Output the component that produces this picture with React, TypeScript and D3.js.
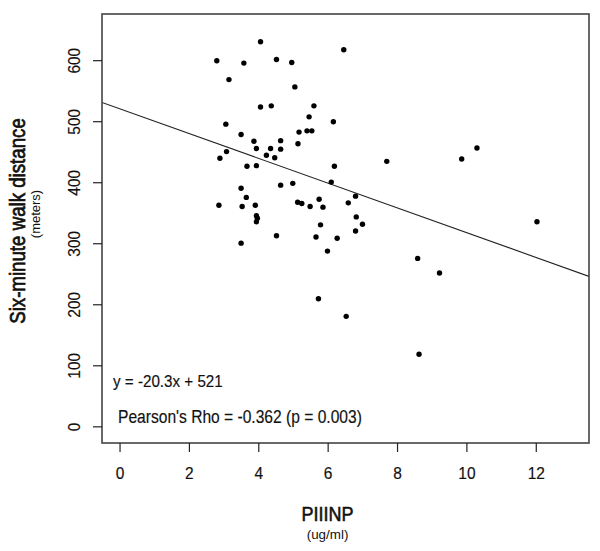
import React from "react";
import * as d3 from "d3";

const piiinp: number[] = [
  4.05, 2.79, 3.57, 4.51, 3.14, 4.05, 4.36, 3.05, 3.49, 3.86, 4.63, 3.07, 3.93, 4.34, 4.63, 2.88, 4.22,
  4.46, 3.66, 3.93, 4.95, 6.45, 5.04, 5.59, 5.45, 6.15, 5.16, 5.39, 5.53, 5.13, 6.18, 7.69, 3.49, 4.63,
  3.64, 2.85, 3.52, 3.9, 3.93, 3.96, 3.93, 4.51, 3.49, 4.98, 6.09, 6.79, 6.58, 5.74, 5.12, 5.24, 5.48,
  5.85, 6.81, 6.99, 5.78, 6.79, 5.65, 6.26, 5.98, 8.58, 9.21, 5.72, 6.52, 9.85, 10.29, 12.02, 8.62,
];
const walkDistance: number[] = [
  631, 600, 596, 602, 569, 524, 526, 496, 479, 468, 469, 451, 456, 456, 455, 440, 445,
  441, 427, 428, 597, 618, 557, 526, 508, 500, 483, 485, 485, 464, 427, 435, 391, 396,
  376, 363, 361, 363, 346, 342, 336, 313, 301, 399, 401, 378, 367, 373, 368, 366, 361,
  360, 344, 332, 331, 321, 311, 309, 288, 276, 252, 210, 181, 439, 457, 336, 119,
];
const xTicks: number[] = [0, 2, 4, 6, 8, 10, 12];
const yTicks: number[] = [0, 100, 200, 300, 400, 500, 600];
const slope = -20.3;
const intercept = 521;
const eqLabel = "y = -20.3x + 521";
const rhoLabel = "Pearson's Rho = -0.362 (p = 0.003)";
const xTitle = "PIIINP";
const xUnit = "(ug/ml)";
const yTitle = "Six-minute walk distance";
const yUnit = "(meters)";

const FONT = "'Liberation Sans', Arial, Helvetica, sans-serif";

export default function App() {
  const W = 600, H = 551;
  const left = 102, right = 589, top = 14, bottom = 443;
  const x = d3.scaleLinear().domain([-0.52, 13.52]).range([left, right]);
  const y = d3.scaleLinear().domain([-26.5, 676.5]).range([bottom, top]);
  const [dx0, dx1] = x.domain();
  const line = d3.line<number>().x((d) => x(d)).y((d) => y(slope * d + intercept));
  const pts = piiinp.map((v, i) => ({ x: v, y: walkDistance[i] }));

  return (
    <svg
      width={W}
      height={H}
      style={{ position: "absolute", left: 0, top: 0, background: "#fff" }}
      fontFamily={FONT}
    >
      <rect x={0} y={0} width={W} height={H} fill="#fff" />
      <defs>
        <clipPath id="plotclip">
          <rect x={left} y={top} width={right - left} height={bottom - top} />
        </clipPath>
      </defs>
      <path d={line([dx0, dx1]) || ""} stroke="#222" strokeWidth={1.1} fill="none" clipPath="url(#plotclip)" />
      {pts.map((p, i) => (
        <circle key={i} cx={x(p.x)} cy={y(p.y)} r={2.7} fill="#000" />
      ))}
      <rect x={left} y={top} width={right - left} height={bottom - top} fill="none" stroke="#444" strokeWidth={1.6} />
      {xTicks.map((t) => (
        <g key={"xt" + t}>
          <line x1={x(t)} x2={x(t)} y1={bottom} y2={bottom + 9} stroke="#222" strokeWidth={1.2} />
          <text transform={`translate(${x(t)},479) scale(1,1.12)`} textAnchor="middle" fontSize={15.5} fill="#111" stroke="#111" strokeWidth={0.15}>
            {t}
          </text>
        </g>
      ))}
      {yTicks.map((t) => (
        <g key={"yt" + t}>
          <line x1={left - 9} x2={left} y1={y(t)} y2={y(t)} stroke="#222" strokeWidth={1.2} />
          <text transform={`translate(80,${y(t)}) rotate(-90) scale(1,1.12)`} textAnchor="middle" fontSize={15.5} fill="#111" stroke="#111" strokeWidth={0.15}>
            {t}
          </text>
        </g>
      ))}
      <text transform="translate(113,387) scale(1,1.12)" fontSize={15.2} fill="#111" stroke="#111" strokeWidth={0.15}>{eqLabel}</text>
      <text transform="translate(118,423) scale(1,1.12)" fontSize={15.6} fill="#111" stroke="#111" strokeWidth={0.15}>{rhoLabel}</text>
      <text transform="translate(327.5,521) scale(1,1.11)" textAnchor="middle" fontSize={18} fill="#111" stroke="#111" strokeWidth={0.5}>{xTitle}</text>
      <text transform="translate(327.5,539)" textAnchor="middle" fontSize={13.4} fill="#111">{xUnit}</text>
      <text transform="translate(25,221) rotate(-90) scale(1,1.2)" textAnchor="middle" fontSize={18.7} fill="#111" stroke="#111" strokeWidth={0.6}>{yTitle}</text>
      <text transform="translate(40,214) rotate(-90)" textAnchor="middle" fontSize={13} fill="#111">{yUnit}</text>
    </svg>
  );
}
